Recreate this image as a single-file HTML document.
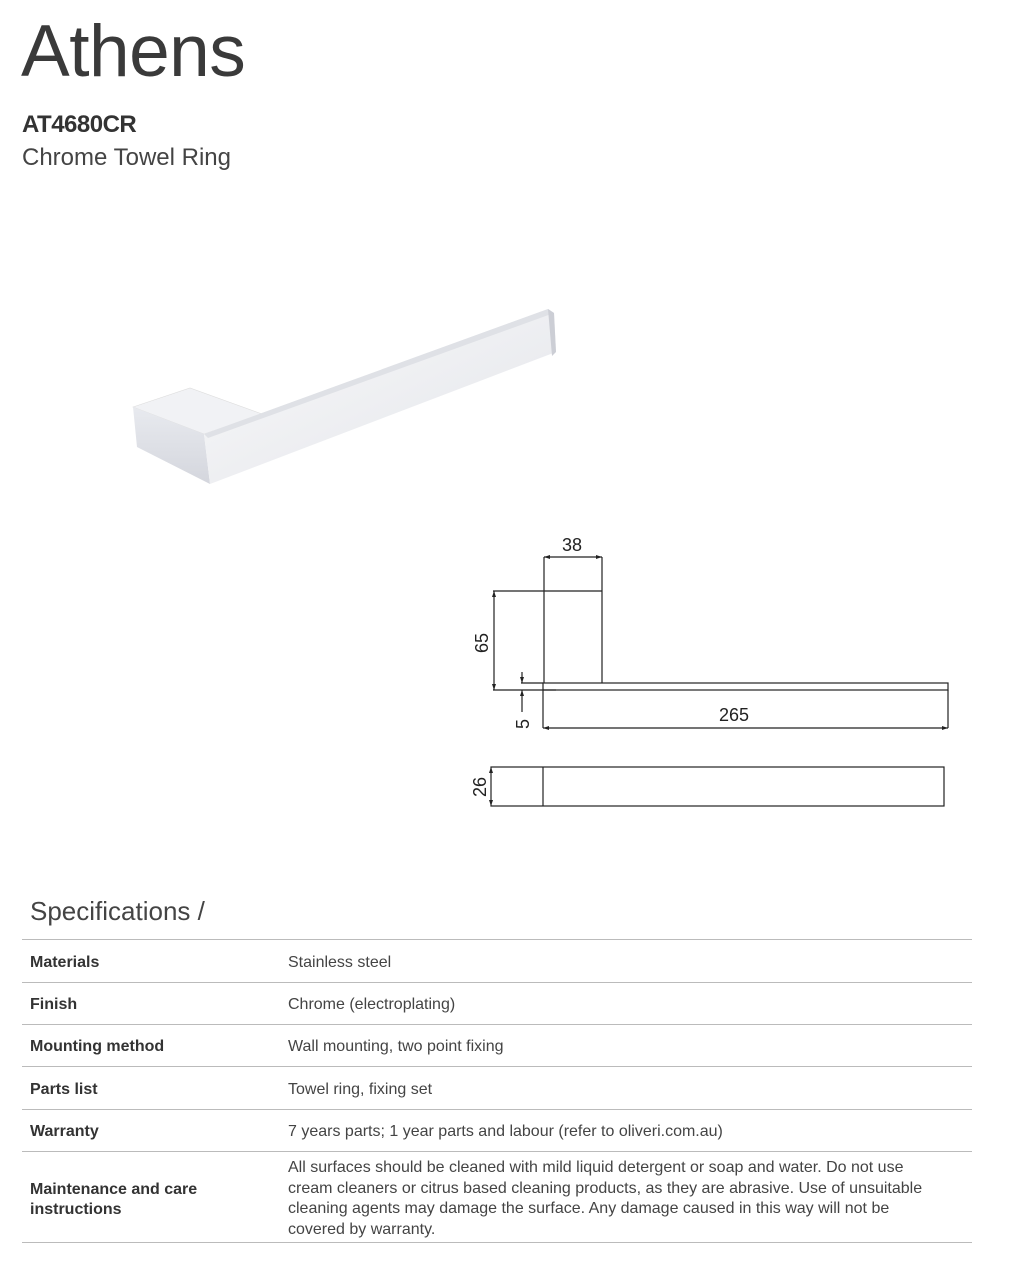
<!DOCTYPE html>
<html><head><meta charset="utf-8"><style>
body{margin:0;width:1010px;height:1278px;background:#fff;font-family:"Liberation Sans",sans-serif;color:#333;position:relative;overflow:hidden}
.a{position:absolute;white-space:nowrap}
.l{position:absolute;left:22px;width:950px;height:1px;background:#bbb}
.k{position:absolute;left:30px;font-weight:bold;font-size:16px;color:#333}
.v{position:absolute;left:288px;font-size:16px;color:#444}
</style></head><body>
<div class="a" style="left:21px;top:10px;font-size:73px;color:#3a3a3a;letter-spacing:-0.5px">Athens</div>
<div class="a" style="left:22px;top:111px;font-size:24px;font-weight:bold;color:#333;letter-spacing:-0.5px">AT4680CR</div>
<div class="a" style="left:22px;top:144px;font-size:24px;color:#444">Chrome Towel Ring</div>

<svg class="a" style="left:0;top:0" width="1010" height="860">
<defs>
<linearGradient id="g1" x1="0" y1="0" x2="1" y2="1"><stop offset="0" stop-color="#fafafa"/><stop offset="1" stop-color="#e2e4ea"/></linearGradient>
<linearGradient id="g2" x1="0" y1="0" x2="0" y2="1"><stop offset="0" stop-color="#e8eaef"/><stop offset="1" stop-color="#d4d6dd"/></linearGradient>
</defs>
<polygon points="133,407 190,388 262,414 204,434" fill="#f1f2f5" stroke="#ddd" stroke-width="0.6"/>
<polygon points="133,407 204,434 210,484 137,447" fill="url(#g2)"/>
<polygon points="204,434 548,309 554,313 556,352 210,484" fill="url(#g1)"/>
<polygon points="204,434 548,309 554,313 208,438" fill="#dfe1e6"/>
<polygon points="548,309 554,313 556,352 552,356" fill="#ccced5"/>
<g stroke="#222" stroke-width="1.2" fill="none">
<line x1="544" y1="557" x2="602" y2="557"/>
<line x1="544" y1="557" x2="544" y2="683"/>
<line x1="602" y1="557" x2="602" y2="683"/>
<line x1="493" y1="591" x2="602" y2="591"/>
<line x1="494" y1="591" x2="494" y2="690"/>
<line x1="493" y1="690" x2="556" y2="690"/>
<rect x="543" y="683" width="405" height="7"/>
<line x1="521" y1="683" x2="543" y2="683"/>
<line x1="522" y1="672" x2="522" y2="683"/>
<line x1="522" y1="690" x2="522" y2="712"/>
<line x1="543" y1="690" x2="543" y2="728"/>
<line x1="948" y1="690" x2="948" y2="728"/>
<line x1="543" y1="728" x2="948" y2="728"/>
<rect x="491" y="767" width="453" height="39"/>
<line x1="543" y1="767" x2="543" y2="806"/>
</g>
<g fill="#222">
<polygon points="544,557 550,555 550,559"/><polygon points="602,557 596,555 596,559"/>
<polygon points="494,591 492,597 496,597"/><polygon points="494,690 492,684 496,684"/>
<polygon points="522,683 520,677 524,677"/><polygon points="522,690 520,696 524,696"/>
<polygon points="543,728 549,726 549,730"/><polygon points="948,728 942,726 942,730"/>
<polygon points="491,767 489,773 493,773"/><polygon points="491,806 489,800 493,800"/>
</g>
<g font-family="Liberation Sans,sans-serif" font-size="18" fill="#222">
<text x="572" y="551" text-anchor="middle">38</text>
<text x="734" y="721" text-anchor="middle">265</text>
<text transform="translate(488,643) rotate(-90)" text-anchor="middle">65</text>
<text transform="translate(529,724) rotate(-90)" text-anchor="middle">5</text>
<text transform="translate(486,787) rotate(-90)" text-anchor="middle">26</text>
</g>
</svg>

<div class="a" style="left:30px;top:896px;font-size:26px;color:#444">Specifications /</div>
<div class="l" style="top:939px"></div>
<div class="k" style="top:954px">Materials</div><div class="v" style="top:954px">Stainless steel</div>
<div class="l" style="top:982px"></div>
<div class="k" style="top:996px">Finish</div><div class="v" style="top:996px">Chrome (electroplating)</div>
<div class="l" style="top:1024px"></div>
<div class="k" style="top:1038px">Mounting method</div><div class="v" style="top:1038px">Wall mounting, two point fixing</div>
<div class="l" style="top:1066px"></div>
<div class="k" style="top:1081px">Parts list</div><div class="v" style="top:1081px">Towel ring, fixing set</div>
<div class="l" style="top:1109px"></div>
<div class="k" style="top:1123px">Warranty</div><div class="v" style="top:1123px">7 years parts; 1 year parts and labour (refer to oliveri.com.au)</div>
<div class="l" style="top:1151px"></div>
<div class="k" style="top:1180px;line-height:20px">Maintenance and care<br>instructions</div>
<div class="v" style="top:1158px;line-height:20.7px;width:660px;white-space:normal">All surfaces should be cleaned with mild liquid detergent or soap and water. Do not use cream cleaners or citrus based cleaning products, as they are abrasive. Use of unsuitable cleaning agents may damage the surface. Any damage caused in this way will not be covered by warranty.</div>
<div class="l" style="top:1242px"></div>
</body></html>
